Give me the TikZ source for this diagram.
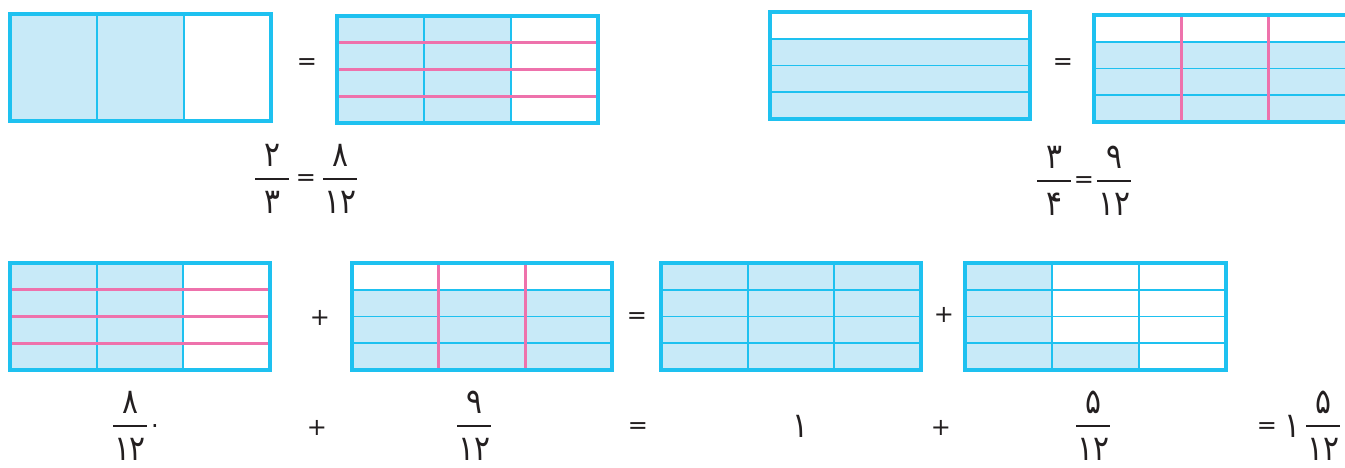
\documentclass[tikz,border=0pt]{standalone}
\usepackage{fontspec}
\newfontfamily\pfont[Script=Arabic,FakeStretch=0.85]{DejaVu Sans}
\newfontfamily\symfont{DejaVu Sans}
\definecolor{gridcyan}{HTML}{1EC1F0}
\definecolor{cellfill}{HTML}{C8EAF8}
\definecolor{pinkline}{HTML}{EE72AC}
\definecolor{inkc}{HTML}{231F20}
\tikzset{
  cellshade/.style={fill=cellfill},
  innerline/.style={draw=gridcyan, line width=1.8pt},
  pinkdiv/.style={draw=pinkline, line width=3pt},
  frame/.style={draw=gridcyan, line width=3.2pt},
  digit/.style={font=\pfont\fontsize{35}{37}\selectfont, inner sep=0pt, text=inkc},
  sym/.style={font=\symfont\fontsize{24}{26}\selectfont, inner sep=0pt, text=inkc},
  fracbar/.style={draw=inkc, line width=1.4pt},
}
% name, x, ybar, numerator, denominator
\newcommand\pfrac[5]{%
  \node[digit] (#1n) at (#2,#3-24) {#4};
  \node[digit] (#1d) at (#2,#3+23) {#5};
  \coordinate (#1l) at (#2-17,#3);
  \coordinate (#1r) at (#2+17,#3);
  \draw[fracbar] (#1l) -- (#1r);
}
\begin{document}
\begin{tikzpicture}[x=1pt,y=-1pt]
\useasboundingbox (0,0) rectangle (1345,467);
\clip (0,0) rectangle (1345,467);
% ---------- A ----------
\fill[cellshade] (10,14) rectangle (184,121);
\draw[innerline] (97,14) -- (97,121) (184,14) -- (184,121);
\draw[frame] (10,14) rectangle (271,121);
% ---------- B ----------
\fill[cellshade] (337,16) rectangle (511,123);
\draw[innerline] (424,16) -- (424,123) (511,16) -- (511,123);
\draw[pinkdiv] (337,42.75) -- (598,42.75) (337,69.5) -- (598,69.5) (337,96.25) -- (598,96.25);
\draw[frame] (337,16) rectangle (598,123);
% ---------- C ----------
\fill[cellshade] (770,38.75) rectangle (1030,119);
\draw[innerline] (770,38.75) -- (1030,38.75) (770,65.5) -- (1030,65.5) (770,92.25) -- (1030,92.25);
\draw[frame] (770,12) rectangle (1030,119);
% ---------- D ----------
\fill[cellshade] (1094,41.75) rectangle (1355,122);
\draw[innerline] (1094,41.75) -- (1355,41.75) (1094,68.5) -- (1355,68.5) (1094,95.25) -- (1355,95.25);
\draw[pinkdiv] (1181,15) -- (1181,122) (1268,15) -- (1268,122);
\draw[frame] (1094,15) rectangle (1355,122);
% ---------- E ----------
\fill[cellshade] (10,263) rectangle (183.3,370);
\draw[innerline] (96.7,263) -- (96.7,370) (183.3,263) -- (183.3,370);
\draw[pinkdiv] (10,289.75) -- (270,289.75) (10,316.5) -- (270,316.5) (10,343.25) -- (270,343.25);
\draw[frame] (10,263) rectangle (270,370);
% ---------- F ----------
\fill[cellshade] (352,289.75) rectangle (612,370);
\draw[innerline] (352,289.75) -- (612,289.75) (352,316.5) -- (612,316.5) (352,343.25) -- (612,343.25);
\draw[pinkdiv] (438.7,263) -- (438.7,370) (525.3,263) -- (525.3,370);
\draw[frame] (352,263) rectangle (612,370);
% ---------- G ----------
\fill[cellshade] (661,263) rectangle (921,370);
\draw[innerline] (747.7,263) -- (747.7,370) (834.3,263) -- (834.3,370)
  (661,289.75) -- (921,289.75) (661,316.5) -- (921,316.5) (661,343.25) -- (921,343.25);
\draw[frame] (661,263) rectangle (921,370);
% ---------- H ----------
\fill[cellshade] (965,263) rectangle (1052,370);
\fill[cellshade] (1052,343.25) rectangle (1139,370);
\draw[innerline] (1052,263) -- (1052,370) (1139,263) -- (1139,370)
  (965,289.75) -- (1226,289.75) (965,316.5) -- (1226,316.5) (965,343.25) -- (1226,343.25);
\draw[frame] (965,263) rectangle (1226,370);
% ---------- signs between boxes ----------
\node[sym] (eqA) at (307,64) {=};
\node[sym] (eqC) at (1063,64) {=};
\node[sym] (plE) at (320,318) {+};
\node[sym] (eqF) at (637,318) {=};
\node[sym] (plG) at (944,315) {+};
% ---------- top equations ----------
\pfrac{fa}{272}{179}{۲}{۳}
\node[sym] (eqfa) at (306,180) {=};
\pfrac{fb}{340}{179}{۸}{۱۲}
\pfrac{fc}{1054}{181}{۳}{۴}
\node[sym] (eqfc) at (1084,182) {=};
\pfrac{fd}{1114}{181}{۹}{۱۲}
% ---------- bottom equation ----------
\pfrac{fe}{130}{426}{۸}{۱۲}
\node[sym] (dot) at (155,426) {.};
\node[sym] (ple) at (317,428) {+};
\pfrac{ff}{474}{426}{۹}{۱۲}
\node[sym] (eqf) at (638,428) {=};
\node[digit] (one) at (800,426) {۱};
\node[sym] (plg) at (941,428) {+};
\pfrac{fh}{1093}{426}{۵}{۱۲}
\node[sym] (eqh) at (1267,428) {=};
\node[digit] (oneb) at (1292,426) {۱};
\pfrac{fi}{1323}{426}{۵}{۱۲}
\end{tikzpicture}
\end{document}
